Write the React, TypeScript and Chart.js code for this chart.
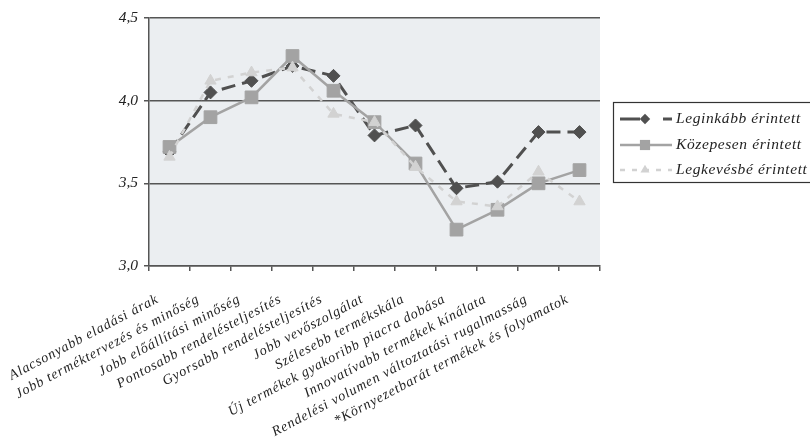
import React, { useEffect, useRef } from "react";
import { Chart, registerables } from "chart.js";

Chart.register(...registerables);

const categories = [
  "Alacsonyabb eladási árak",
  "Jobb terméktervezés és minőség",
  "Jobb előállítási minőség",
  "Pontosabb rendelésteljesítés",
  "Gyorsabb rendelésteljesítés",
  "Jobb vevőszolgálat",
  "Szélesebb termékskála",
  "Új termékek gyakoribb piacra dobása",
  "Innovatívabb termékek kínálata",
  "Rendelési volumen változtatási rugalmasság",
  "*Környezetbarát termékek és folyamatok",
];

const seriesNames = ["Leginkább érintett", "Közepesen érintett", "Legkevésbé érintett"];
const leginkabb = [3.69, 4.05, 4.12, 4.21, 4.15, 3.79, 3.85, 3.47, 3.51, 3.81, 3.81];
const kozepesen = [3.72, 3.9, 4.02, 4.27, 4.06, 3.87, 3.62, 3.22, 3.34, 3.5, 3.58];
const legkevesbe = [3.66, 4.12, 4.17, 4.2, 3.92, 3.87, 3.6, 3.39, 3.36, 3.57, 3.39];
const yTicks = [3.0, 3.5, 4.0, 4.5];

const FONT = "'Liberation Serif', 'DejaVu Serif', serif";
const AXIS = "#555555";
const legendDashes = [[20, 23], [], [5, 7]];

const plotBg = {
  id: "plotBg",
  beforeDraw(chart: any) {
    const { ctx, chartArea } = chart;
    ctx.save();
    ctx.fillStyle = "#ebeef1";
    ctx.fillRect(chartArea.left, chartArea.top, chartArea.right - chartArea.left, chartArea.bottom - chartArea.top);
    ctx.restore();
  },
};

// Rotated category labels, placed from the x scale's own tick pixels
const xLabels = {
  id: "xLabels",
  afterDraw(chart: any) {
    const { ctx } = chart;
    const scale = chart.scales.x;
    const spacing = 0.9;
    const angle = (-28 * Math.PI) / 180;
    ctx.save();
    ctx.font = `italic 14px ${FONT}`;
    ctx.fillStyle = "#222222";
    ctx.textAlign = "left";
    ctx.textBaseline = "alphabetic";
    (scale.getLabels() as string[]).forEach((label: string, i: number) => {
      (ctx as any).letterSpacing = "0px";
      const w0 = ctx.measureText(label).width;
      const w = w0 + spacing * (Array.from(label).length - 1);
      const x = scale.getPixelForTick(i) - 11;
      const y = scale.top + 36;
      ctx.save();
      ctx.translate(x, y);
      ctx.rotate(angle);
      (ctx as any).letterSpacing = `${spacing}px`;
      ctx.fillText(label, -w, 0);
      ctx.restore();
    });
    ctx.restore();
  },
};

function marker(ctx: CanvasRenderingContext2D, style: string, x: number, y: number, r: number) {
  ctx.beginPath();
  if (style === "rectRot") {
    ctx.moveTo(x, y - r);
    ctx.lineTo(x + r, y);
    ctx.lineTo(x, y + r);
    ctx.lineTo(x - r, y);
  } else if (style === "rect") {
    const s = r * Math.SQRT1_2;
    ctx.rect(x - s, y - s, 2 * s, 2 * s);
  } else {
    const w = r * Math.sin(Math.PI / 3);
    ctx.moveTo(x, y - r);
    ctx.lineTo(x + w, y + r / 2);
    ctx.lineTo(x - w, y + r / 2);
  }
  ctx.closePath();
  ctx.fill();
}

const boxLegend = {
  id: "boxLegend",
  afterDraw(chart: any) {
    const { ctx } = chart;
    const left = 613;
    const top = 102;
    const bottom = 182;
    ctx.save();
    ctx.strokeStyle = "#333333";
    ctx.lineWidth = 1.2;
    ctx.strokeRect(left + 0.5, top + 0.5, 300, bottom - top);
    const rows = [119, 145, 170];
    chart.data.datasets.forEach((ds: any, i: number) => {
      const y = rows[i];
      ctx.save();
      ctx.strokeStyle = ds.borderColor;
      ctx.lineWidth = ds.borderWidth;
      ctx.setLineDash(legendDashes[i]);
      ctx.beginPath();
      ctx.moveTo(620, y);
      ctx.lineTo(672, y);
      ctx.stroke();
      ctx.restore();
      ctx.save();
      ctx.fillStyle = ds.pointBackgroundColor;
      marker(ctx, ds.pointStyle, 645, y, ds.pointRadius * 0.8);
      ctx.restore();
      ctx.save();
      (ctx as any).letterSpacing = "0.6px";
      ctx.fillStyle = "#222222";
      ctx.font = `italic 15.5px ${FONT}`;
      ctx.textBaseline = "middle";
      ctx.textAlign = "left";
      ctx.fillText(seriesNames[i], 676, y);
      ctx.restore();
    });
    ctx.restore();
  },
};

export default function App() {
  const ref = useRef<HTMLCanvasElement | null>(null);
  useEffect(() => {
    if (!ref.current) return;
    const chart = new Chart(ref.current, {
      type: "line",
      data: {
        labels: categories,
        datasets: [
          {
            label: seriesNames[0],
            data: leginkabb,
            borderColor: "#505050",
            backgroundColor: "#505050",
            pointBackgroundColor: "#505050",
            pointBorderColor: "#505050",
            borderWidth: 3,
            borderDash: [14, 7],
            pointStyle: "rectRot",
            pointRadius: 6.5,
            pointBorderWidth: 1,
            tension: 0,
            order: 3,
          },
          {
            label: seriesNames[1],
            data: kozepesen,
            borderColor: "#a3a3a3",
            backgroundColor: "#a3a3a3",
            pointBackgroundColor: "#a3a3a3",
            pointBorderColor: "#a3a3a3",
            borderWidth: 2.5,
            borderDash: [],
            pointStyle: "rect",
            pointRadius: 9,
            pointBorderWidth: 1,
            tension: 0,
            order: 2,
          },
          {
            label: seriesNames[2],
            data: legkevesbe,
            borderColor: "#d2d2d2",
            backgroundColor: "#d2d2d2",
            pointBackgroundColor: "#d2d2d2",
            pointBorderColor: "#d2d2d2",
            borderWidth: 2.5,
            borderDash: [6, 7],
            pointStyle: "triangle",
            pointRadius: 6.5,
            pointBorderWidth: 1,
            tension: 0,
            order: 1,
          },
        ],
      },
      options: {
        responsive: false,
        animation: false,
        events: [],
        layout: { padding: { top: 18, right: 210, left: 0, bottom: 0 } },
        plugins: { legend: { display: false }, tooltip: { enabled: false }, title: { display: false } },
        scales: {
          x: {
            offset: true,
            grid: {
              offset: true,
              drawOnChartArea: false,
              drawTicks: true,
              tickLength: 5,
              color: AXIS,
              lineWidth: 1.5,
            },
            border: { display: true, color: AXIS, width: 1.5 },
            ticks: {
              display: false,
              autoSkip: false,
              maxRotation: 0,
            },
            afterFit(scale: any) {
              scale.height = 445 - 266;
              scale.paddingLeft = 0;
              scale.paddingRight = 0;
            },
          },
          y: {
            min: 3,
            max: 4.5,
            afterBuildTicks(scale: any) {
              scale.ticks = yTicks.map((v) => ({ value: v }));
            },
            grid: {
              drawOnChartArea: true,
              drawTicks: true,
              tickLength: 5,
              color: AXIS,
              lineWidth: 1.5,
            },
            border: { display: true, color: AXIS, width: 1.5 },
            ticks: {
              padding: 6,
              color: "#222222",
              font: { family: FONT, size: 15.5, style: "italic" },
              callback: (v: any) => Number(v).toFixed(1).replace(".", ","),
            },
            afterFit(scale: any) {
              scale.width = 149;
            },
          },
        },
      },
      plugins: [plotBg, xLabels, boxLegend],
    });
    return () => chart.destroy();
  }, []);
  return (
    <div style={{ position: "absolute", left: 0, top: 0, width: 810, height: 445, background: "#ffffff" }}>
      <canvas ref={ref} width={810} height={445} style={{ display: "block", width: 810, height: 445 }} />
    </div>
  );
}
